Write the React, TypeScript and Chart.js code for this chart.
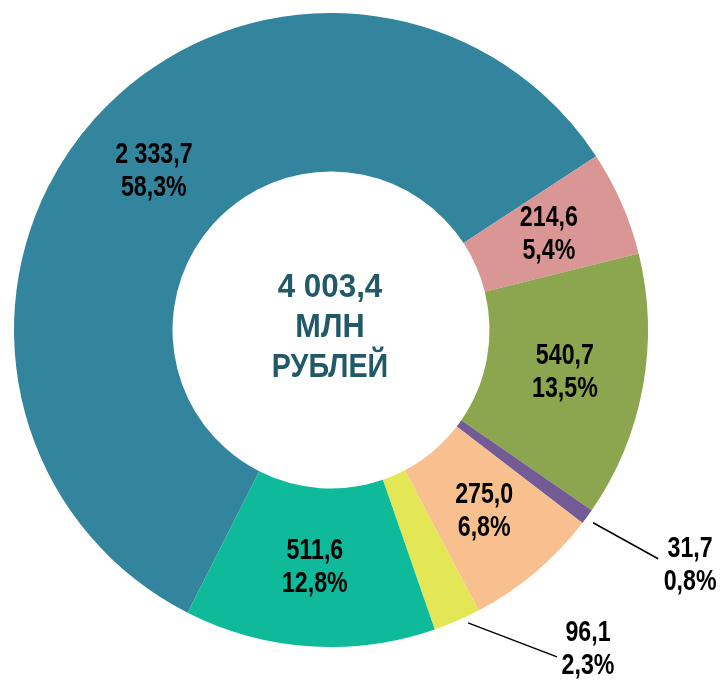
import React, { useEffect, useRef } from "react";
import { Chart, registerables } from "chart.js";

Chart.register(...registerables);

const categories = ["A", "B", "C", "D", "E", "F", "G"];
const values = [2333.7, 214.6, 540.7, 31.7, 275.0, 96.1, 511.6];
const valueLabels = ["2 333,7", "214,6", "540,7", "31,7", "275,0", "96,1", "511,6"];
const percentLabels = ["58,3%", "5,4%", "13,5%", "0,8%", "6,8%", "2,3%", "12,8%"];
const colors = ["#32859C", "#D99694", "#8BA64E", "#735B95", "#F9C08F", "#E3E755", "#0EBA99"];
const centerLines = ["4 003,4", "МЛН", "РУБЛЕЙ"];

// outside labels: index -> offsets from outer mid point [lineStart, lineEnd, labelCenter]
const outsideLabels: Record<number, number[][]> = {
  3: [[6, 6], [71, 42], [103, 49]],
  5: [[11, 2], [100, 36], [131, 29]],
};

const FONT = '"Liberation Sans", Arial, sans-serif';

function condensedText(ctx: CanvasRenderingContext2D, text: string, x: number, y: number, sx: number) {
  ctx.save();
  ctx.translate(x, y);
  ctx.scale(sx, 1);
  ctx.fillText(text, 0, 0);
  ctx.restore();
}

const labelPlugin = {
  id: "labelPlugin",
  afterDatasetsDraw(chart: any) {
    const ctx = chart.ctx;
    const meta = chart.getDatasetMeta(0);
    ctx.save();
    ctx.textAlign = "center";
    ctx.textBaseline = "middle";
    meta.data.forEach((arc: any, i: number) => {
      const out = outsideLabels[i];
      ctx.font = `bold 29px ${FONT}`;
      ctx.fillStyle = "#000000";
      let lx: number, ly: number;
      if (out) {
        const mid = (arc.startAngle + arc.endAngle) / 2;
        const ox = arc.x + Math.cos(mid) * arc.outerRadius;
        const oy = arc.y + Math.sin(mid) * arc.outerRadius;
        ctx.beginPath();
        ctx.strokeStyle = "#000000";
        ctx.lineWidth = 1.5;
        ctx.moveTo(ox + out[0][0], oy + out[0][1]);
        ctx.lineTo(ox + out[1][0], oy + out[1][1]);
        ctx.stroke();
        lx = ox + out[2][0];
        ly = oy + out[2][1];
      } else {
        const p = arc.tooltipPosition();
        lx = p.x;
        ly = p.y;
      }
      condensedText(ctx, valueLabels[i], lx, ly - 16.5, 0.8);
      condensedText(ctx, percentLabels[i], lx, ly + 16.5, 0.8);
    });
    const a0 = meta.data[0];
    ctx.fillStyle = "#215968";
    ctx.font = `bold 33px ${FONT}`;
    const scales = [0.95, 0.93, 0.87];
    centerLines.forEach((t, k) => {
      condensedText(ctx, t, a0.x - 1, a0.y - 2 + (k - 1) * 40, scales[k]);
    });
    ctx.restore();
  },
};

export default function App() {
  const ref = useRef<HTMLCanvasElement>(null);
  useEffect(() => {
    document.body.style.margin = "0";
    const chart = new Chart(ref.current as HTMLCanvasElement, {
      type: "doughnut",
      data: {
        labels: categories,
        datasets: [
          {
            data: values,
            backgroundColor: colors,
            borderWidth: 0,
            hoverOffset: 0,
          },
        ],
      },
      options: {
        responsive: false,
        animation: false,
        cutout: "50%",
        rotation: -153.1,
        layout: { padding: { left: 14, top: 13, right: 74, bottom: 33 } },
        plugins: {
          legend: { display: false },
          tooltip: { enabled: false },
        },
      },
      plugins: [labelPlugin],
    });
    return () => chart.destroy();
  }, []);
  return (
    <div style={{ width: 722, height: 680 }}>
      <canvas ref={ref} width={722} height={680} style={{ width: 722, height: 680, display: "block" }} />
    </div>
  );
}
